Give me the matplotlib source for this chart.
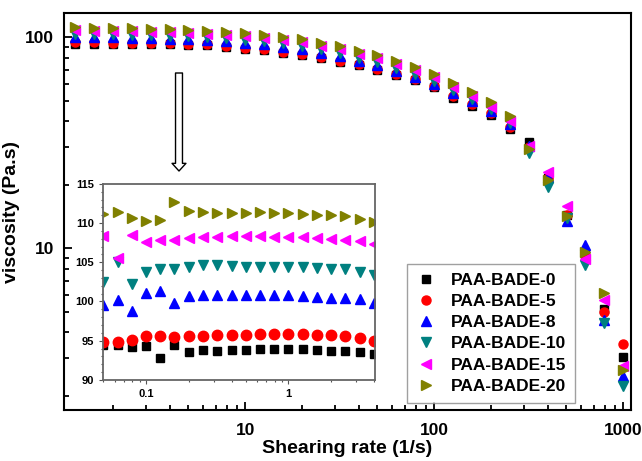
import matplotlib
matplotlib.use("Agg")
import matplotlib.pyplot as plt
from matplotlib.ticker import LogLocator, NullFormatter, MultipleLocator

plt.rcParams.update({
    "font.family": ["Liberation Sans", "DejaVu Sans"],
    "font.weight": "bold",
    "axes.labelweight": "bold",
})

labels = ["PAA-BADE-0", "PAA-BADE-5", "PAA-BADE-8", "PAA-BADE-10", "PAA-BADE-15", "PAA-BADE-20"]
colors = ["black", "#ff0000", "#0000ff", "#008080", "#ff00ff", "#808000"]
markers = ["s", "o", "^", "v", "<", ">"]

# main plot: shearing rate (1/s) vs viscosity (Pa.s)
rate = [1.26, 1.58, 2.0, 2.51, 3.16, 3.98, 5.01, 6.31, 7.94, 10, 12.6, 15.8, 20, 25.1, 31.6,
        39.8, 50.1, 63.1, 79.4, 100, 126, 158, 200, 251, 316, 398, 501, 631, 794, 1000]
visc_0 = [93.2, 93.1, 93.0, 92.9, 92.8, 92.6, 92.1, 91.2, 89.6, 88.0, 86.6, 84.3, 82.4, 79.6, 76.1,
          73.6, 69.6, 66.0, 62.5, 57.8, 51.7, 47.3, 42.9, 36.8, 31.8, 21.5, 14.3, 9.4, 5.15, 3.05]
visc_5 = [94.4, 94.3, 94.2, 94.1, 94.0, 93.8, 93.2, 92.2, 90.5, 88.9, 87.5, 85.2, 83.3, 80.6, 77.1,
          74.6, 70.6, 66.9, 63.4, 58.7, 52.6, 48.1, 43.6, 37.5, 30.1, 21.5, 14.3, 9.3, 5.0, 3.5]
visc_8 = [100.3, 100.0, 99.6, 99.2, 98.8, 98.2, 97.4, 96.5, 95.4, 93.8, 92.3, 90.0, 87.6, 84.3, 81.0,
          77.0, 73.4, 68.9, 64.6, 59.9, 54.4, 49.6, 44.8, 38.8, 30.6, 21.7, 13.4, 10.3, 4.57, 2.47]
visc_10 = [103.8, 103.5, 103.1, 102.7, 102.2, 101.6, 100.8, 99.9, 98.9, 97.3, 95.8, 93.5, 91.0, 87.6, 84.2,
           80.0, 76.3, 71.6, 67.0, 62.1, 56.2, 50.9, 45.6, 39.2, 28.2, 19.5, 13.9, 8.3, 4.4, 2.22]
visc_15 = [107.5, 107.1, 106.7, 106.3, 105.8, 105.2, 104.4, 103.5, 102.4, 100.8, 99.3, 97.0, 94.4, 90.9, 87.4,
           83.0, 79.2, 74.4, 69.7, 64.6, 58.2, 52.6, 46.8, 40.0, 30.6, 22.9, 15.8, 8.9, 5.7, 2.75]
visc_20 = [111.3, 110.9, 110.5, 110.0, 109.5, 108.9, 108.1, 107.2, 106.0, 104.4, 102.8, 100.5, 97.8, 94.2, 90.6,
           86.0, 82.2, 77.0, 72.0, 66.8, 60.5, 54.9, 49.2, 42.2, 29.5, 21.1, 14.2, 9.6, 6.1, 2.65]
main_series = [visc_0, visc_5, visc_8, visc_10, visc_15, visc_20]

# inset: low shearing rate region
rate_in = [0.05, 0.063, 0.079, 0.1, 0.126, 0.158, 0.2, 0.251, 0.316, 0.398,
           0.501, 0.631, 0.794, 1.0, 1.26, 1.58, 2.0, 2.51, 3.16, 3.98]
in_0 = [94.5, 94.4, 94.25, 94.3, 92.8, 94.4, 93.6, 93.8, 93.7, 93.8,
        93.8, 93.9, 93.95, 93.9, 93.9, 93.8, 93.7, 93.65, 93.5, 93.3]
in_5 = [94.8, 94.85, 95.1, 95.65, 95.65, 95.5, 95.65, 95.57, 95.7, 95.74,
        95.78, 95.82, 95.82, 95.87, 95.87, 95.78, 95.7, 95.57, 95.4, 95.0]
in_8 = [99.6, 100.2, 98.8, 101.1, 101.3, 99.8, 100.7, 100.8, 100.8, 100.8,
        100.8, 100.8, 100.8, 100.8, 100.7, 100.6, 100.5, 100.5, 100.3, 99.8]
in_10 = [102.5, 105.1, 102.2, 103.7, 104.1, 104.2, 104.4, 104.6, 104.7, 104.5,
         104.4, 104.4, 104.4, 104.4, 104.4, 104.3, 104.2, 104.2, 103.8, 103.4]
in_15 = [108.3, 105.6, 108.5, 107.6, 107.9, 107.8, 108.1, 108.2, 108.2, 108.3,
         108.3, 108.3, 108.2, 108.2, 108.2, 108.1, 108.0, 107.9, 107.7, 107.3]
in_20 = [111.2, 111.4, 110.6, 110.3, 110.4, 112.7, 111.5, 111.4, 111.3, 111.3,
         111.3, 111.4, 111.3, 111.3, 111.2, 111.1, 111.0, 110.9, 110.5, 110.1]
inset_series = [in_0, in_5, in_8, in_10, in_15, in_20]

main_sizes = [5.5, 6.5, 7, 7, 7, 7]
inset_sizes = [6, 7.5, 7.5, 7.5, 7.5, 7.5]

fig = plt.figure(figsize=(6.42, 4.61), dpi=100)
ax = fig.add_axes([0.0997, 0.1106, 0.8833, 0.8612])

for ys, c, m, lab, s in zip(main_series, colors, markers, labels, main_sizes):
    ax.plot(rate, ys, linestyle="none", marker=m, color=c, markersize=s, label=lab)

ax.set_xscale("log")
ax.set_yscale("log")
ax.set_xlim(1.1, 1100)
ax.set_ylim(1.71, 130)
ax.set_xticks([10, 100, 1000])
ax.set_xticklabels(["10", "100", "1000"])
ax.set_yticks([10, 100])
ax.set_yticklabels(["10", "100"])
ax.xaxis.set_minor_locator(LogLocator(base=10, subs=range(2, 10)))
ax.yaxis.set_minor_locator(LogLocator(base=10, subs=range(2, 10)))
ax.xaxis.set_minor_formatter(NullFormatter())
ax.yaxis.set_minor_formatter(NullFormatter())
ax.tick_params(which="both", direction="in", top=False, right=False, width=1.3, labelsize=12.5)
ax.tick_params(axis="x", which="major", length=6, pad=9)
ax.tick_params(axis="y", which="major", length=6, pad=7)
ax.tick_params(which="minor", length=3.5)
for sp in ax.spines.values():
    sp.set_linewidth(1.5)

ax.set_xlabel("Shearing rate (1/s)", fontsize=14, labelpad=2)
ax.set_ylabel("viscosity (Pa.s)", fontsize=14, labelpad=4)

leg = ax.legend(loc="upper left", bbox_to_anchor=(0.605, 0.368), borderaxespad=0,
                fancybox=False, frameon=True, fontsize=12.5, handletextpad=0.8,
                labelspacing=0.35, borderpad=0.5, handlelength=1.2)
leg.get_frame().set_edgecolor("#888888")
leg.get_frame().set_linewidth(1.0)

# inset
axin = fig.add_axes([0.160, 0.176, 0.424, 0.425])
for ys, c, m, s in zip(inset_series, colors, markers, inset_sizes):
    axin.plot(rate_in, ys, linestyle="none", marker=m, color=c, markersize=s)
axin.set_xscale("log")
axin.set_xlim(0.0495, 4.05)
axin.set_ylim(90, 115)
axin.set_xticks([0.1, 1])
axin.set_xticklabels(["0.1", "1"])
axin.xaxis.set_minor_locator(LogLocator(base=10, subs=range(2, 10)))
axin.xaxis.set_minor_formatter(NullFormatter())
axin.yaxis.set_major_locator(MultipleLocator(5))
axin.yaxis.set_minor_locator(MultipleLocator(1))
axin.tick_params(which="both", direction="out", top=False, right=False, labelsize=8,
                 color="#555555", width=0.8)
axin.tick_params(which="major", length=3)
axin.tick_params(which="minor", length=1.5)
for sp in axin.spines.values():
    sp.set_color("#666666")
    sp.set_linewidth(1.3)

# hollow arrow pointing to inset
ax.annotate("", xy=(179, 461 - 171), xytext=(179, 461 - 73),
            xycoords="figure pixels", textcoords="figure pixels",
            arrowprops=dict(arrowstyle="simple,head_length=0.55,head_width=1.0,tail_width=0.5",
                            fc="white", ec="black", lw=1.0, shrinkA=0, shrinkB=0))

fig.savefig("out.png", dpi=100)
